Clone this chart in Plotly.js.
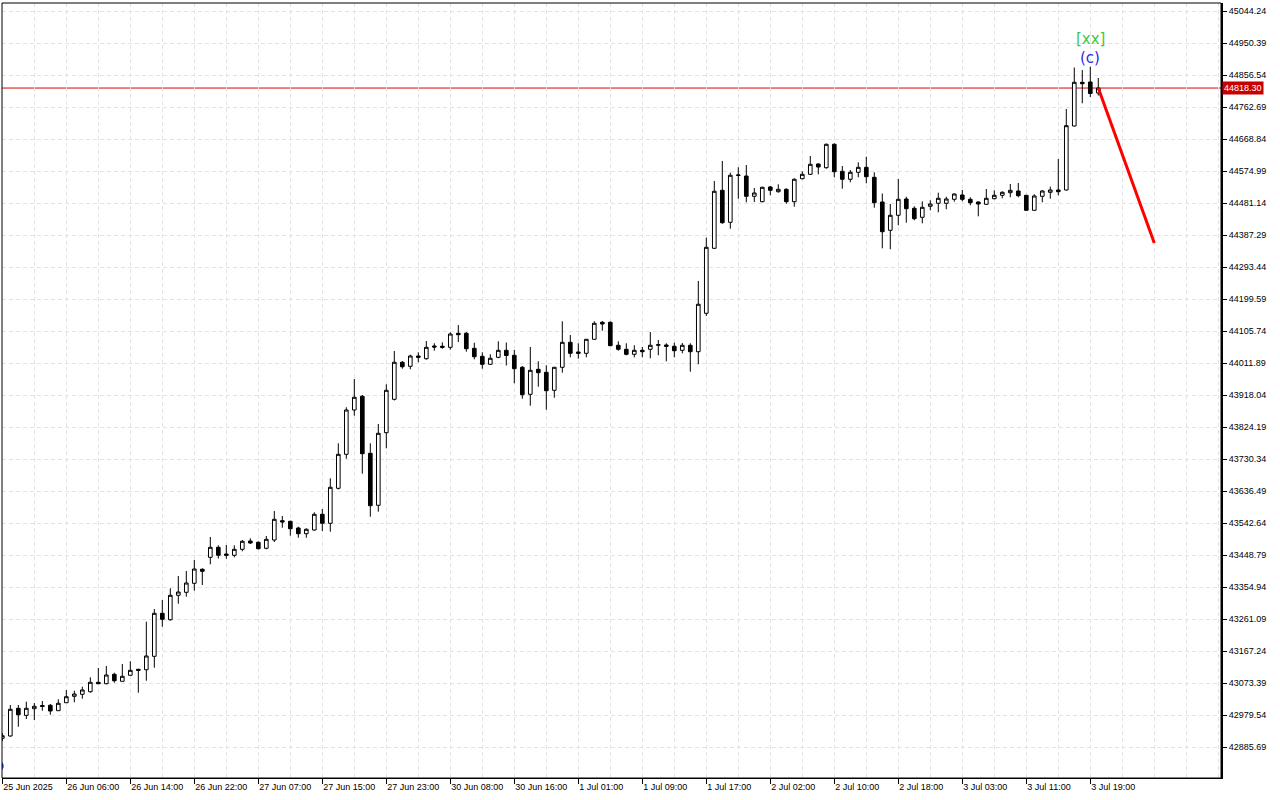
<!DOCTYPE html>
<html>
<head>
<meta charset="utf-8">
<script src="https://cdn.plot.ly/plotly-3.0.1.min.js"></script>
<style>html,body{margin:0;padding:0;background:#fff;}#chart{width:1280px;height:800px;}</style>
</head>
<body>
<div id="chart"></div>
<script>
const openP = [42911.2,42918.0,42999.2,42978.5,42998.0,43007.4,43008.0,42992.2,43015.6,43034.4,
43040.3,43047.9,43075.5,43071.4,43098.9,43078.4,43096.0,43113.6,43112.4,43151.7,
43277.8,43259.0,43330.6,43339.4,43365.8,43406.9,43442.0,43471.4,43451.7,43447.9,
43465.5,43489.9,43486.0,43468.5,43492.8,43549.4,43547.6,43528.0,43511.3,43522.1,
43568.2,43541.8,43644.4,43744.1,43874.1,43914.2,43747.1,43594.6,43807.5,43905.4,
44014.0,44002.2,44032.4,44024.5,44061.8,44060.9,44057.9,44099.0,44099.0,44055.0,
44031.5,44008.1,44028.6,44049.1,44034.5,43999.3,43920.1,43993.4,43984.6,43931.8,
43999.3,44072.6,44044.2,44040.3,44081.4,44131.3,44131.3,44063.8,44052.1,44037.4,
44049.1,44052.1,44063.8,44064.7,44060.9,44049.1,44063.8,44045.0,44157.7,44348.3,
44518.4,44424.5,44561.8,44560.3,44500.8,44485.0,44528.1,44514.3,44521.3,44485.0,
44552.4,44565.3,44595.5,44584.7,44653.3,44574.1,44550.7,44571.2,44585.8,44556.5,
44484.1,44401.1,44445.1,44492.9,44465.6,44439.2,44471.5,44480.3,44480.3,44492.0,
44504.6,44492.0,44484.1,44477.3,44493.8,44503.7,44511.4,44516.3,44503.7,44459.7,
44500.8,44512.5,44519.3,44519.3,44707.0,44835.1,44836.0,44803.8];

const highP = [42926.8,43008.9,43008.9,43018.6,43014.7,43020.6,43011.8,43025.6,43052.9,43050.8,
43062.5,43090.1,43117.4,43123.3,43103.6,43129.1,43137.0,43115.0,43253.2,43290.4,
43316.8,43351.1,43387.2,43401.9,43434.1,43409.8,43501.6,43477.2,43478.1,43477.2,
43492.8,43497.8,43489.0,43504.5,43577.8,43563.2,43549.4,43531.8,43527.1,43574.0,
43583.7,43673.7,43776.4,43882.0,43965.0,43918.0,43776.4,43833.0,43949.4,44047.1,
44017.8,44036.2,44043.3,44076.4,44069.7,44072.6,44101.9,44123.3,44102.8,44071.4,
44043.3,44037.4,44075.5,44072.0,44050.0,44003.1,44058.8,44016.9,44005.2,44000.2,
44134.2,44094.0,44069.7,44082.3,44134.2,44135.1,44133.6,44075.5,44069.7,44063.8,
44058.8,44102.8,44079.4,44069.7,44071.4,44070.6,44069.7,44252.4,44379.4,44545.7,
44604.3,44570.0,44585.8,44592.6,44525.1,44529.0,44531.0,44536.0,44524.3,44553.6,
44574.1,44619.0,44597.6,44655.6,44656.2,44589.7,44577.9,44600.5,44616.9,44571.2,
44509.0,44478.2,44551.5,44499.6,44471.5,44486.1,44489.1,44511.4,44499.6,44509.6,
44519.3,44497.9,44485.5,44522.2,44518.4,44515.5,44536.9,44539.8,44504.6,44506.7,
44519.3,44529.0,44610.2,44756.8,44878.5,44871.2,44880.9,44847.7];

const lowP = [42903.3,42915.9,42945.2,42967.8,42964.9,42992.2,42980.4,42992.2,43015.6,43016.8,
43027.4,43045.0,43071.3,43069.6,43074.3,43078.4,43096.0,43045.0,43080.1,43118.3,
43238.5,43256.1,43306.0,43326.5,43344.1,43360.8,43421.5,43438.5,43437.9,43442.0,
43459.7,43481.1,43464.9,43465.5,43486.9,43528.9,43505.4,43499.5,43499.5,43520.1,
43519.2,43517.1,43641.0,43731.2,43857.3,43687.2,43561.1,43575.8,43761.7,43902.0,
43995.2,43993.4,44014.0,44021.6,44048.0,44053.8,44050.9,44073.5,44045.0,44022.7,
43995.2,44006.6,44026.0,44004.6,43952.4,43907.2,43886.7,43942.4,43874.9,43910.1,
43983.5,44028.6,44024.5,44028.6,44080.8,44106.6,44061.8,44048.0,44034.5,44028.6,
44028.6,44025.7,44034.5,44016.9,44028.6,44040.3,43986.4,44008.1,44149.7,44346.2,
44420.0,44405.8,44493.8,44483.2,44484.1,44483.2,44503.7,44511.4,44479.1,44470.3,
44550.7,44563.3,44565.3,44581.7,44556.5,44523.1,44541.9,44556.5,44538.9,44467.4,
44348.3,44345.4,44415.7,44423.4,44430.4,44421.6,44459.7,44453.9,44462.7,44485.0,
44486.1,44474.4,44442.1,44475.3,44492.0,44494.9,44497.9,44497.9,44459.2,44459.2,
44483.2,44493.8,44503.7,44517.8,44705.5,44773.5,44792.0,44796.4];

const closeP = [42918.8,42996.3,42980.4,42999.2,43005.1,43004.5,42991.3,43013.9,43033.2,43041.1,
43052.9,43075.5,43071.3,43096.9,43080.1,43093.1,43110.6,43110.6,43152.6,43277.8,
43260.2,43330.6,43340.3,43366.7,43407.7,43401.0,43471.4,43447.9,43447.9,43465.5,
43489.0,43484.0,43467.3,43494.8,43553.5,43545.6,43525.9,43511.3,43524.2,43568.2,
43541.8,43647.4,43744.1,43874.1,43911.3,43745.9,43593.4,43805.7,43931.8,44014.0,
44001.0,44032.4,44028.6,44057.9,44058.8,44057.9,44096.9,44094.9,44053.8,44030.4,
44008.1,44025.7,44049.1,44033.9,43995.2,43918.9,43990.5,43983.5,43930.7,43999.3,
44072.6,44040.3,44040.3,44081.4,44128.3,44126.3,44062.6,44052.1,44037.4,44049.1,
44045.0,44063.8,44065.6,44060.9,44048.0,44063.8,44045.0,44184.1,44351.2,44515.5,
44423.4,44562.4,44563.3,44500.8,44510.5,44527.2,44518.4,44521.3,44485.0,44550.7,
44565.3,44594.6,44586.7,44653.3,44572.9,44550.7,44571.2,44585.8,44558.3,44482.0,
44397.0,44445.1,44492.0,44464.4,44435.1,44468.5,44478.2,44494.9,44492.9,44507.5,
44492.0,44482.0,44478.2,44494.9,44503.7,44512.5,44518.4,44502.6,44459.7,44501.7,
44516.3,44519.3,44514.3,44707.9,44835.1,44831.0,44802.3,44818.30];

// time labels shown on the x axis (every 8th hourly bar)
const timeLabelBars = [0,8,16,24,32,40,48,56,64,72,80,88,96,104,112,120,128,136];
const timeLabels = ["25 Jun 2025","26 Jun 06:00","26 Jun 14:00","26 Jun 22:00","27 Jun 07:00",
  "27 Jun 15:00","27 Jun 23:00","30 Jun 08:00","30 Jun 16:00","1 Jul 01:00","1 Jul 09:00",
  "1 Jul 17:00","2 Jul 02:00","2 Jul 10:00","2 Jul 18:00","3 Jul 03:00","3 Jul 11:00","3 Jul 19:00"];

const priceTicks = [45044.24,44950.39,44856.54,44762.69,44668.84,44574.99,44481.14,44387.29,
  44293.44,44199.59,44105.74,44011.89,43918.04,43824.19,43730.34,43636.49,43542.64,43448.79,
  43354.94,43261.09,43167.24,43073.39,42979.54,42885.69];

const currentPrice = 44818.30;
// forecast segment (bar index, price)
const forecastBars = [137, 144];
const forecastPrices = [44818.30, 44363.8];
// wave labels
const waveLabelBar = 136;
const waveLabelTop = "[xx]", waveLabelTopPrice = 44962;
const waveLabelBottom = "(c)", waveLabelBottomPrice = 44906;
// partly hidden marker at left edge
const edgeMarkBar = [-0.45], edgeMarkPrice = [42830];

const bars = openP.map((_, i) => i);

const traces = [
  {
    type: 'candlestick',
    x: bars, open: openP, high: highP, low: lowP, close: closeP,
    increasing: {line: {color: '#000000', width: 1}, fillcolor: '#ffffff'},
    decreasing: {line: {color: '#000000', width: 1}, fillcolor: '#000000'},
    whiskerwidth: 0,
    hoverinfo: 'skip',
    showlegend: false
  },
  {
    type: 'scatter', mode: 'lines',
    x: forecastBars, y: forecastPrices,
    line: {color: '#ff0000', width: 3},
    hoverinfo: 'skip', showlegend: false
  },
  {
    type: 'scatter', mode: 'markers',
    x: edgeMarkBar, y: edgeMarkPrice,
    marker: {color: '#1f3dff', size: 10},
    hoverinfo: 'skip', showlegend: false
  }
];

const gridCol = '#e3e3e3';
const layout = {
  width: 1280, height: 800,
  margin: {l: 2, r: 59, t: 3, b: 22, pad: 0},
  paper_bgcolor: '#ffffff', plot_bgcolor: '#ffffff',
  font: {family: 'Liberation Sans, Arial, sans-serif', size: 9, color: '#000000'},
  showlegend: false,
  boxgap: 0.35,
  xaxis: {
    type: 'linear',
    range: [-0.04, 152.34],
    rangeslider: {visible: false},
    tickmode: 'array',
    tickvals: timeLabelBars,
    ticktext: timeLabels,
    ticks: 'outside', ticklen: 5, tickcolor: '#000000', tickwidth: 1,
    ticklabelposition: 'outside right',
    showgrid: false,
    minor: {tickmode: 'linear', tick0: 0, dtick: 4, showgrid: true, gridcolor: gridCol, griddash: '4px,3px', gridwidth: 1, ticks: ''},
    showline: true, linecolor: '#000000', linewidth: 1,
    zeroline: false, automargin: false, fixedrange: true,
    tickfont: {family: 'Liberation Sans, Arial, sans-serif', size: 9, color: '#000000'}
  },
  yaxis: {
    side: 'right',
    range: [42794.8, 45067.7],
    tickmode: 'array',
    tickvals: priceTicks,
    ticktext: priceTicks.map(v => v.toFixed(2)),
    ticks: 'outside', ticklen: 4, tickcolor: '#000000', tickwidth: 1,
    showgrid: true, gridcolor: gridCol, griddash: '4px,3px', gridwidth: 1,
    showline: true, linecolor: '#000000', linewidth: 2,
    zeroline: false, automargin: false, fixedrange: true,
    tickfont: {family: 'Liberation Sans, Arial, sans-serif', size: 9, color: '#000000'}
  },
  shapes: [
    {type: 'rect', xref: 'paper', yref: 'paper', x0: 0, x1: 1, y0: 0, y1: 1,
     line: {color: '#000000', width: 1}, layer: 'above'},
    {type: 'line', xref: 'paper', yref: 'y', x0: 0, x1: 1, y0: currentPrice, y1: currentPrice,
     line: {color: '#e00000', width: 1}, layer: 'below'}
  ],
  annotations: [
    {xref: 'x', yref: 'y', x: waveLabelBar, y: waveLabelTopPrice, text: waveLabelTop, showarrow: false,
     font: {family: 'DejaVu Sans, sans-serif', size: 15, color: '#3fc83f'}},
    {xref: 'x', yref: 'y', x: waveLabelBar, y: waveLabelBottomPrice, text: waveLabelBottom, showarrow: false,
     font: {family: 'DejaVu Sans, sans-serif', size: 15, color: '#2a2af0'}},
    {xref: 'paper', yref: 'y', x: 1, xanchor: 'left', xshift: 1, y: currentPrice, yanchor: 'middle',
     text: currentPrice.toFixed(2), showarrow: false, bgcolor: '#c80000', borderpad: 1,
     font: {family: 'Liberation Sans, Arial, sans-serif', size: 9, color: '#ffffff'}}
  ]
};

Plotly.newPlot('chart', traces, layout, {displayModeBar: false, staticPlot: true});
</script>
</body>
</html>
